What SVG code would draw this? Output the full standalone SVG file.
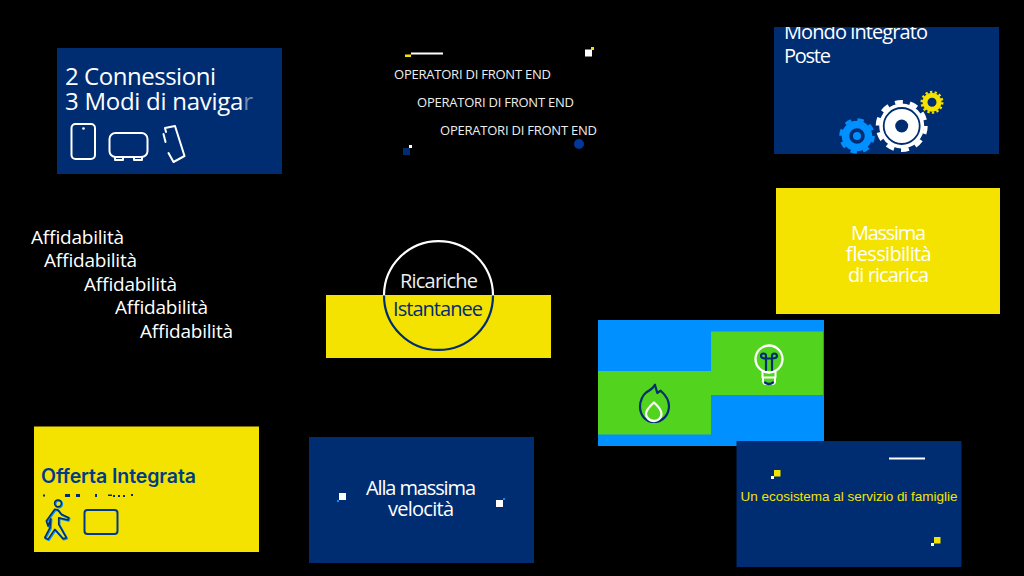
<svg xmlns="http://www.w3.org/2000/svg" width="1024" height="576" viewBox="0 0 1024 576">
<defs>
<style>
.navy{fill:#002d72}.yel{fill:#f4e300}.sky{fill:#0090ff}.grn{fill:#52d41f}.w{fill:#fff}
text{font-family:"Open Sans","Noto Sans","Liberation Sans",sans-serif}
.t{fill:#fff}
.ln{fill:none;stroke:#fff;stroke-width:2;stroke-linejoin:round;stroke-linecap:round}
.nl{fill:none;stroke:#002d72;stroke-width:2.2;stroke-linejoin:round;stroke-linecap:round}
.op{font-size:13px;fill:#eee}
.af{font-size:19px;fill:#fff}
.m{font-size:20px}
.s{font-family:"Liberation Sans",sans-serif}
</style>
<clipPath id="topclip"><rect x="774" y="27" width="225" height="127"/></clipPath>
<path id="walker" d="M54.700 509.300L46.300 521L48 526L50.700 518.700L50 527.700L44.700 537.700L48 539.300L54.700 529.300L63 538.700L66.300 537.700L58.700 524.300L58.700 517.700L68 520L68.700 517.700L61.300 514.300L58 510Z"/>
</defs>
<rect width="1024" height="576" fill="#000"/>

<g id="connessioni">
<rect class="navy" x="57" y="48" width="225" height="126"/>
<text class="t" x="65" y="85" font-size="24" textLength="151">2 Connessioni</text>
<text class="t" x="65" y="110" font-size="24" textLength="188">3 Modi di naviga<tspan fill-opacity=".45">r</tspan></text>
<rect class="ln" x="71.500" y="124" width="23.500" height="35" rx="4"/>
<circle class="w" cx="83.500" cy="128.500" r="1.300"/>
<rect class="ln" x="109.500" y="133" width="38" height="24" rx="6"/>
<path class="ln" d="M115 157v3h8v-3M134 157v3h8v-3"/>
<path class="ln" d="M166 132l-1-4 10-2 9.500 30-11 6-5-9M163.500 134l2 8"/>
</g>

<g id="operatori">
<rect class="yel" x="405" y="54.500" width="6" height="2.500"/>
<rect class="w" x="411" y="52.500" width="32" height="2"/>
<rect class="w" x="585" y="49.500" width="7" height="7"/>
<rect class="yel" x="591" y="47" width="3" height="3"/>
<text class="op" x="394" y="79" textLength="157">OPERATORI DI FRONT END</text>
<text class="op" x="417" y="107" textLength="157">OPERATORI DI FRONT END</text>
<text class="op" x="440" y="135" textLength="157">OPERATORI DI FRONT END</text>
<rect class="navy" x="403" y="148" width="7" height="7"/>
<rect class="w" x="409" y="145" width="3" height="3"/>
<circle cx="579" cy="144" r="5" fill="#00379a"/>
</g>

<g id="mondo">
<rect class="navy" x="774" y="27" width="225" height="127"/>
<g clip-path="url(#topclip)">
<text class="t m" x="784" y="39" textLength="144">Mondo integrato</text>
<text class="t m" x="784" y="63" textLength="47">Poste</text>
</g>
<circle cx="857" cy="136" r="11.500" fill="none" stroke="#0090ff" stroke-width="7.500"/>
<circle cx="857" cy="136" r="16.300" fill="none" stroke="#0090ff" stroke-width="3" stroke-dasharray="6.400 6.400"/>
<circle cx="857" cy="136" r="4" class="sky"/>
<circle cx="901.700" cy="126" r="22.500" class="w"/>
<circle cx="901.700" cy="126" r="24" fill="none" stroke="#fff" stroke-width="4" stroke-dasharray="8 7.080"/>
<circle cx="901.700" cy="126" r="18" fill="none" stroke="#002d72" stroke-width="1.800"/>
<circle cx="901.700" cy="126" r="6.500" class="navy"/>
<circle cx="932" cy="102.300" r="7" fill="none" stroke="#f4e300" stroke-width="5"/>
<circle cx="932" cy="102.300" r="10.300" fill="none" stroke="#f4e300" stroke-width="2.400" stroke-dasharray="2.310 2.310"/>
</g>

<g id="affidabilita">
<text class="af" x="31" y="244" textLength="93">Affidabilità</text>
<text class="af" x="44" y="267" textLength="93">Affidabilità</text>
<text class="af" x="84" y="291" textLength="93">Affidabilità</text>
<text class="af" x="115" y="314" textLength="93">Affidabilità</text>
<text class="af" x="140" y="338" textLength="93">Affidabilità</text>
</g>

<g id="ricariche">
<rect class="yel" x="326" y="295" width="225" height="63"/>
<path d="M384 295.500a54.500 54.500 0 0 1 109 0" fill="none" stroke="#fff" stroke-width="2.200"/>
<path d="M384 295.500a54.500 54.500 0 0 0 109 0" fill="none" stroke="#002d72" stroke-width="2.200"/>
<text x="400" y="288" font-size="20" fill="#eee" textLength="78">Ricariche</text>
<text x="393" y="316" font-size="20" fill="#002d72" textLength="90">Istantanee</text>
</g>

<g id="flessibilita">
<rect class="yel" x="776" y="188" width="224" height="126"/>
<text class="t m" x="851" y="240" textLength="75">Massima</text>
<text class="t m" x="845" y="261" textLength="86">flessibilità</text>
<text class="t m" x="848" y="282" textLength="81">di ricarica</text>
</g>

<g id="energia">
<rect class="sky" x="598" y="320" width="226" height="126"/>
<rect class="grn" x="711" y="331.500" width="112" height="63.500"/>
<rect class="grn" x="598" y="371" width="113" height="63.500"/>
<path class="nl" d="M655 385l2.300 8 3.400-2.300c4.500 4 8.300 8.800 8.300 15.300 0 9-6.500 16-15 16s-14-7-14-15.500c0-6 3-11.500 6-13.800 3-2.500 6.500-3 9-8z"/>
<path class="ln" style="stroke-width:2.300" d="M654 402.500c4 3.500 7.500 8 7.500 11.500 0 4-3.500 7-7.500 7s-8-3-8-7c0-3.500 4-8 8-11.500z"/>
<circle class="ln" style="stroke-width:2.300" cx="769" cy="359" r="13.500"/>
<path class="ln" d="M762.500 372v5.500h13v-5.500M763 378.500v2.500a3 3 0 0 0 3 3h6a3 3 0 0 0 3-3v-2.500"/>
<path class="nl" d="M766 370v-14a2.500 2.500 0 1 0-5 0c0 2 2 2.500 5 2.500M772 370v-14a2.500 2.500 0 1 1 5 0c0 2-2 2.500-5 2.500M766 358.500h6M765 382.500q4 3 8 0"/>
</g>

<g id="offerta">
<rect class="yel" x="34" y="426.500" width="225" height="125.500"/>
<text x="41" y="483" font-size="19.500" font-weight="600" fill="#003a8c" style="font-family:Inter,'Liberation Sans',sans-serif" textLength="155">Offerta Integrata</text>
<g class="navy">
<rect x="43" y="494.500" width="2" height="2"/><rect x="65" y="494" width="5" height="3"/><rect x="76" y="494" width="4" height="3"/><rect x="95" y="494" width="2" height="3"/><rect x="108" y="494.500" width="4" height="1.500"/><rect x="113" y="495" width="2" height="2"/><rect x="118" y="495" width="2" height="2"/><rect x="123" y="495" width="2" height="2"/><rect x="131" y="494" width="2" height="2"/>
</g>
<g fill="none" stroke-linejoin="round">
<g stroke="#0090ff" stroke-width="2" transform="translate(.8,.8)"><circle cx="58" cy="503.300" r="3.400"/><use href="#walker"/></g>
<g stroke="#002d72" stroke-width="1.500"><circle cx="58" cy="503.300" r="3.400"/><use href="#walker"/></g>
</g>
<rect x="84.500" y="510" width="33" height="24" rx="3" fill="none" stroke="#003a8c" stroke-width="2"/>
</g>

<g id="velocita">
<rect class="navy" x="309" y="437" width="225" height="126"/>
<rect class="sky" x="337" y="500" width="2" height="2"/>
<rect class="w" x="339" y="493" width="7" height="7"/>
<rect class="w" x="496" y="500" width="7" height="7"/>
<rect class="sky" x="503" y="498" width="2" height="2"/>
<text class="t m" x="366" y="495" textLength="110">Alla massima</text>
<text class="t m" x="388" y="516" textLength="66">velocità</text>
</g>

<g id="ecosistema">
<rect class="navy" x="736.500" y="441" width="225" height="126"/>
<rect class="w" x="889" y="457.500" width="36" height="2"/>
<rect class="yel" x="774" y="470" width="6.500" height="6.500"/>
<rect class="w" x="771" y="476" width="3" height="3"/>
<rect class="yel" x="934" y="537" width="6.500" height="6.500"/>
<rect class="w" x="931" y="543" width="3" height="3"/>
<text class="s" x="740.500" y="501" font-size="13.500" fill="#f4e300" textLength="217">Un ecosistema al servizio di famiglie</text>
</g>
</svg>
